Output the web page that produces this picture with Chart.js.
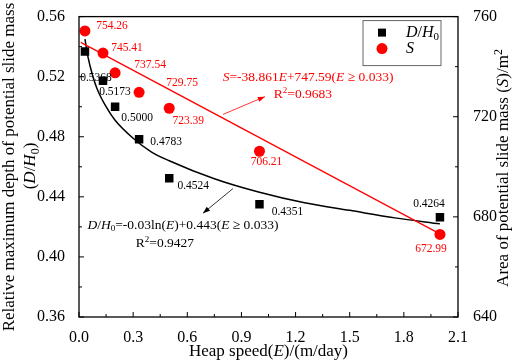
<!DOCTYPE html>
<html>
<head>
<meta charset="utf-8">
<script src="https://cdn.jsdelivr.net/npm/chart.js@4.4.0/dist/chart.umd.min.js"></script>
<style>
  html, body { margin: 0; padding: 0; background: #fff; }
</style>
</head>
<body>
<canvas id="grafico" width="512" height="362"></canvas>
<script>
// Datos medidos
const speeds = [0.033, 0.133, 0.2, 0.333, 0.5, 1.0, 2.0];
const depthRatio = [0.5368, 0.5173, 0.5000, 0.4783, 0.4524, 0.4351, 0.4264];
const slideArea = [754.26, 745.41, 737.54, 729.75, 723.39, 706.21, 672.99];
const depthLabels = ["0.5368", "0.5173", "0.5000", "0.4783", "0.4524", "0.4351", "0.4264"];
const areaLabels = ["754.26", "745.41", "737.54", "729.75", "723.39", "706.21", "672.99"];

// Curva de ajuste
const fitSpeeds = [0.033, 0.05, 0.075, 0.1, 0.15, 0.2, 0.3, 0.4, 0.5, 0.75, 1.0, 1.25, 1.5, 1.75, 2.0];
const fitDepth = [0.545, 0.533, 0.521, 0.512, 0.500, 0.491, 0.479, 0.470, 0.464, 0.452, 0.443, 0.436, 0.431, 0.426, 0.422];
// Recta de ajuste
const lineSpeeds = [0.01, 2.0];
const lineArea = [749.7, 673.2];

// Desplazamientos de etiquetas (px)
const depthOffsets = [[11, 27], [12, 11], [22, 11], [27, 3], [24, 8], [28, 8], [-11, -13]];
const areaOffsets = [[27, -5], [24, -5], [35, -8], [43, -9], [19, 13], [7, 11], [-9, 15]];

const FONT = "'Liberation Serif', 'Times New Roman', serif";
const RED = "#ff0000";

function fontStr(size, italic) {
  return (italic ? "italic " : "") + size + "px " + FONT;
}

// texto con cursiva / subíndice / superíndice
function richDraw(ctx, segs, x, y, size, align, color) {
  let w = 0;
  const parts = segs.map(([t, f = ""]) => {
    const small = f.includes("b") || f.includes("p");
    const s = small ? Math.round(size * 0.68) : size;
    ctx.font = fontStr(s, f.includes("i"));
    const pw = ctx.measureText(t).width;
    const dy = f.includes("b") ? size * 0.3 : f.includes("p") ? -size * 0.33 : 0;
    const p = { t, s, i: f.includes("i"), dy, x: w };
    w += pw;
    return p;
  });
  const x0 = align === "center" ? x - w / 2 : align === "right" ? x - w : x;
  ctx.fillStyle = color;
  ctx.textBaseline = "middle";
  ctx.textAlign = "left";
  parts.forEach((p) => {
    ctx.font = fontStr(p.s, p.i);
    ctx.fillText(p.t, x0 + p.x, y + p.dy);
  });
}

function arrow(ctx, x1, y1, x2, y2, color) {
  ctx.strokeStyle = color;
  ctx.fillStyle = color;
  ctx.lineWidth = 0.8;
  ctx.beginPath();
  ctx.moveTo(x1, y1);
  ctx.lineTo(x2, y2);
  ctx.stroke();
  const a = Math.atan2(y2 - y1, x2 - x1);
  const L = 7, W = 2.6;
  ctx.beginPath();
  ctx.moveTo(x2, y2);
  ctx.lineTo(x2 - L * Math.cos(a) + W * Math.sin(a), y2 - L * Math.sin(a) - W * Math.cos(a));
  ctx.lineTo(x2 - L * Math.cos(a) - W * Math.sin(a), y2 - L * Math.sin(a) + W * Math.cos(a));
  ctx.closePath();
  ctx.fill();
}

const decoraciones = {
  id: "decoraciones",
  afterDatasetsDraw(chart) {
    const { ctx, chartArea: ca, scales } = chart;
    const sx = scales.x, sy = scales.y, sy1 = scales.y1;
    ctx.save();

    // marco
    ctx.strokeStyle = "#000";
    ctx.lineWidth = 1.3;
    ctx.strokeRect(ca.left, ca.top, ca.right - ca.left, ca.bottom - ca.top);

    // marcas hacia dentro
    ctx.lineWidth = 1;
    ctx.beginPath();
    sx.ticks.forEach((t, i) => {
      const px = sx.getPixelForValue(t.value);
      ctx.moveTo(px, ca.bottom); ctx.lineTo(px, ca.bottom - 5);
      if (i < sx.ticks.length - 1) {
        const m = sx.getPixelForValue((t.value + sx.ticks[i + 1].value) / 2);
        ctx.moveTo(m, ca.bottom); ctx.lineTo(m, ca.bottom - 3);
      }
    });
    sy.ticks.forEach((t, i) => {
      const py = sy.getPixelForValue(t.value);
      ctx.moveTo(ca.left, py); ctx.lineTo(ca.left + 5, py);
      if (i < sy.ticks.length - 1) {
        const m = sy.getPixelForValue((t.value + sy.ticks[i + 1].value) / 2);
        ctx.moveTo(ca.left, m); ctx.lineTo(ca.left + 3, m);
      }
    });
    sy1.ticks.forEach((t, i) => {
      const py = sy1.getPixelForValue(t.value);
      ctx.moveTo(ca.right, py); ctx.lineTo(ca.right - 5, py);
      if (i < sy1.ticks.length - 1) {
        const m = sy1.getPixelForValue((t.value + sy1.ticks[i + 1].value) / 2);
        ctx.moveTo(ca.right, m); ctx.lineTo(ca.right - 3, m);
      }
    });
    ctx.stroke();

    // etiquetas de puntos
    ctx.textAlign = "center";
    ctx.textBaseline = "middle";
    ctx.font = fontStr(11.5, false);
    speeds.forEach((e, i) => {
      const px = sx.getPixelForValue(e);
      ctx.fillStyle = "#000";
      ctx.fillText(depthLabels[i], px + depthOffsets[i][0], sy.getPixelForValue(depthRatio[i]) + depthOffsets[i][1]);
      ctx.fillStyle = RED;
      ctx.fillText(areaLabels[i], px + areaOffsets[i][0], sy1.getPixelForValue(slideArea[i]) + areaOffsets[i][1]);
    });

    // flechas
    arrow(ctx, sx.getPixelForValue(0.798), sy.getPixelForValue(0.4949),
      sx.getPixelForValue(1.03), sy.getPixelForValue(0.5067), RED);
    arrow(ctx, sx.getPixelForValue(0.853), sy.getPixelForValue(0.4455),
      sx.getPixelForValue(0.687), sy.getPixelForValue(0.4291), "#000");

    // ecuaciones
    richDraw(ctx, [["S", "i"], ["=-38.861"], ["E", "i"], ["+747.59("], ["E", "i"], [" ≥ 0.033)"]],
      sx.getPixelForValue(1.269), sy.getPixelForValue(0.5192), 13.5, "center", RED);
    richDraw(ctx, [["R"], ["2", "p"], ["=0.9683"]],
      sx.getPixelForValue(1.241), sy.getPixelForValue(0.508), 13.5, "center", RED);
    richDraw(ctx, [["D", "i"], ["/"], ["H", "i"], ["0", "b"], ["=-0.03ln("], ["E", "i"], [")+0.443("], ["E", "i"], [" ≥ 0.033)"]],
      sx.getPixelForValue(0.576), sy.getPixelForValue(0.4212), 13.5, "center", "#000");
    richDraw(ctx, [["R"], ["2", "p"], ["=0.9427"]],
      sx.getPixelForValue(0.476), sy.getPixelForValue(0.4087), 13.5, "center", "#000");

    // leyenda
    const lx = ca.right - 95, ly = ca.top + 4;
    ctx.strokeStyle = "#666";
    ctx.lineWidth = 1;
    ctx.strokeRect(lx, ly, 78, 45);
    ctx.fillStyle = "#000";
    ctx.fillRect(lx + 15, ly + 8, 8, 8);
    ctx.fillStyle = RED;
    ctx.beginPath();
    ctx.arc(lx + 19, ly + 28, 5.5, 0, Math.PI * 2);
    ctx.fill();
    richDraw(ctx, [["D", "i"], ["/"], ["H", "i"], ["0", "b"]], lx + 43, ly + 12, 16, "left", "#000");
    richDraw(ctx, [["S", "i"]], lx + 43, ly + 28, 16, "left", "#000");

    // títulos de ejes
    richDraw(ctx, [["Heap speed("], ["E", "i"], [")/(m/day)"]], (ca.left + ca.right) / 2, 352, 17, "center", "#000");
    ctx.save();
    ctx.translate(10, 167);
    ctx.rotate(-Math.PI / 2);
    richDraw(ctx, [["Relative maximum depth of potential slide mass"]], 0, 0, 17, "center", "#000");
    ctx.restore();
    ctx.save();
    ctx.translate(31, 166);
    ctx.rotate(-Math.PI / 2);
    richDraw(ctx, [["("], ["D", "i"], ["/"], ["H", "i"], ["0", "b"], [")"]], 0, 0, 17, "center", "#000");
    ctx.restore();
    ctx.save();
    ctx.translate(504, 168);
    ctx.rotate(-Math.PI / 2);
    richDraw(ctx, [["Area of potential slide mass ("], ["S", "i"], [")/m"], ["2", "p"]], 0, 0, 17, "center", "#000");
    ctx.restore();

    ctx.restore();
  }
};

const tickFont = { family: FONT, size: 16 };

new Chart(document.getElementById("grafico"), {
  type: "scatter",
  data: {
    datasets: [
      {
        label: "D/H0",
        data: speeds.map((e, i) => ({ x: e, y: depthRatio[i] })),
        yAxisID: "y",
        pointStyle: "rect",
        pointRadius: 6,
        backgroundColor: "#000",
        borderWidth: 0,
        order: 1
      },
      {
        label: "S",
        data: speeds.map((e, i) => ({ x: e, y: slideArea[i] })),
        yAxisID: "y1",
        pointStyle: "circle",
        pointRadius: 5.5,
        backgroundColor: RED,
        borderWidth: 0,
        order: 0
      },
      {
        label: "ajuste D/H0",
        data: fitSpeeds.map((e, i) => ({ x: e, y: fitDepth[i] })),
        yAxisID: "y",
        showLine: true,
        pointRadius: 0,
        borderColor: "#000",
        borderWidth: 1.5,
        cubicInterpolationMode: "monotone",
        order: 3
      },
      {
        label: "ajuste S",
        data: lineSpeeds.map((e, i) => ({ x: e, y: lineArea[i] })),
        yAxisID: "y1",
        showLine: true,
        pointRadius: 0,
        borderColor: RED,
        borderWidth: 1.3,
        order: 2
      }
    ]
  },
  options: {
    responsive: false,
    animation: false,
    devicePixelRatio: 1,
    layout: { padding: { top: 13, left: 0, right: 0, bottom: 0 } },
    plugins: {
      legend: { display: false },
      tooltip: { enabled: false }
    },
    scales: {
      x: {
        type: "linear",
        min: 0, max: 2.1,
        grid: { display: false },
        border: { display: false },
        ticks: { stepSize: 0.3, color: "#000", font: tickFont, padding: 3, maxRotation: 0,
          callback: (v) => v.toFixed(1) },
        afterFit: (s) => { s.height = 45; }
      },
      y: {
        position: "left",
        min: 0.36, max: 0.56,
        grid: { display: false },
        border: { display: false },
        ticks: { stepSize: 0.04, color: "#000", font: tickFont, padding: 6,
          callback: (v) => v.toFixed(2) },
        afterFit: (s) => { s.width = 79; }
      },
      y1: {
        position: "right",
        min: 640, max: 760,
        grid: { display: false },
        border: { display: false },
        ticks: { stepSize: 40, color: "#000", font: tickFont, padding: 7,
          callback: (v) => v.toFixed(0) },
        afterFit: (s) => { s.width = 54; }
      }
    }
  },
  plugins: [decoraciones]
});
</script>
</body>
</html>
